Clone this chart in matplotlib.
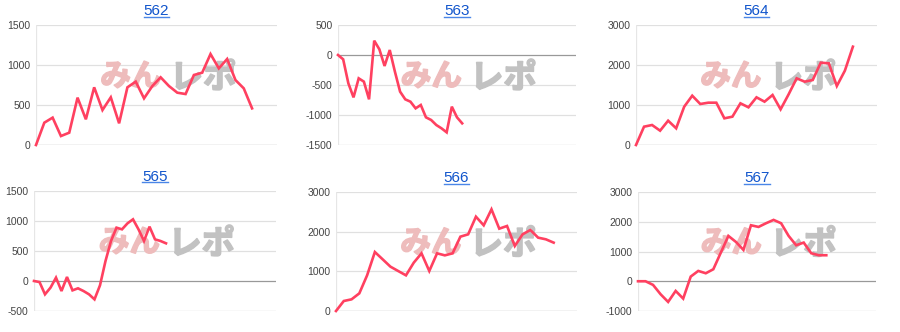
import matplotlib.pyplot as plt
import matplotlib.patheffects as pe
from matplotlib.lines import Line2D

plt.rcParams['font.family'] = ['Liberation Sans', 'DejaVu Sans']

titles = ['562', '563', '564', '565', '566', '567']

v562 = [0, 279, 342, 112, 154, 592, 321, 721, 437, 596, 271, 721, 792, 583,
        737, 846, 737, 654, 637, 875, 904, 1137, 958, 1075, 812, 708, 458]
v563 = [0, -72, -472, -706, -389, -444, -739, 239, 94, -183, 83, -278, -611,
        -739, -778, -889, -833, -1039, -1083, -1167, -1222, -1289, -861, -1039, -1139]
v564 = [0, 458, 500, 358, 608, 417, 958, 1233, 1025, 1058, 1058, 667, 708, 1042,
        942, 1192, 1083, 1250, 892, 1267, 1667, 1583, 1625, 2058, 2042, 1475, 1858, 2458]
v565 = [0, -17, -222, -111, 56, -167, 67, -156, -122, -167, -222, -306, -72, 333,
        667, 889, 861, 961, 1028, 861, 667, 906, 694, 667, 628]
v566 = [0, 252, 294, 445, 899, 1487, 1303, 1118, 1008, 899, 1218, 1454, 1008, 1454,
        1403, 1454, 1874, 1933, 2378, 2160, 2563, 2076, 2143, 1639, 1933, 2042, 1849, 1807, 1723]
v567 = [0, 0, -123, -437, -695, -325, -583, 157, 347, 269, 403, 964, 1524, 1322, 1053,
        1882, 1826, 1950, 2062, 1950, 1524, 1210, 1300, 941, 874, 874]

series = [v562, v563, v564, v565, v566, v567]
xmax = [29, 46, 30, 44, 31, 31.6]
yticks = [[0, 500, 1000, 1500],
          [-1500, -1000, -500, 0, 500],
          [0, 1000, 2000, 3000],
          [-500, 0, 500, 1000, 1500],
          [0, 1000, 2000, 3000],
          [-1000, 0, 1000, 2000, 3000]]

# plot areas in pixels: left, right, top, bottom
boxes = [(36, 277, 25, 145), (338, 576, 25, 145), (636, 877, 25, 145),
         (34, 276, 191, 311), (336, 577, 192, 311), (638, 876, 192, 311)]

W, H = 900, 332
fig = plt.figure(figsize=(9, 3.32), dpi=100)

for i in range(6):
    l, r, t, b = boxes[i]
    ax = fig.add_axes([l / W, 1 - b / H, (r - l) / W, (b - t) / H])
    yt = yticks[i]
    ax.set_ylim(yt[0], yt[-1])
    ax.set_xlim(0, xmax[i])
    ax.set_yticks(yt)
    ax.set_yticklabels([str(v) for v in yt])
    ax.set_xticks([])
    for s in ax.spines.values():
        s.set_visible(False)
    ax.tick_params(axis='y', length=0, pad=4, labelsize=7.5, labelcolor='#444444')
    for v in yt:
        if v == 0:
            c = '#999999'
        elif v == yt[0]:
            c = '#cccccc'
        else:
            c = '#e0e0e0'
        ax.axhline(v, color=c, lw=0.9, zorder=1)
    ax.axvline(0, color='#e6e6e6', lw=0.9, zorder=1)

    # watermark
    ax.text(0.52, 0.57, 'みん', transform=ax.transAxes, ha='right', va='center',
            fontsize=22, fontweight='bold', color='#eebcbc',
            family=['Noto Sans CJK JP'], zorder=2,
            path_effects=[pe.withStroke(linewidth=1.2, foreground='#eebcbc')])
    ax.text(0.555, 0.555, 'レポ', transform=ax.transAxes, ha='left', va='center',
            fontsize=24, fontweight='bold', color='#c2c2c2',
            family=['Noto Sans CJK JP'], zorder=2,
            path_effects=[pe.withStroke(linewidth=1.2, foreground='#c2c2c2')])

    y = series[i]
    ax.plot(range(len(y)), y, color='#ff4060', lw=1.9, zorder=3,
            solid_joinstyle='miter', clip_on=False)

# titles with underline
tt = []
for i in range(6):
    l, r, t, b = boxes[i]
    cx = (l + r) / 2 / W
    ty = 1 - (t - 10) / H
    txt = fig.text(cx, ty, titles[i], ha='center', va='baseline', fontsize=11,
                   color='#1155cc')
    tt.append(txt)

fig.canvas.draw()
rend = fig.canvas.get_renderer()
for i, txt in enumerate(tt):
    bb = txt.get_window_extent(rend)
    yl = 1 - (boxes[i][2] - 8.5) / H
    fig.add_artist(Line2D([bb.x0 / W, bb.x1 / W], [yl, yl], color='#4a86e8', lw=1.0))

plt.savefig('out.png', dpi=100)
